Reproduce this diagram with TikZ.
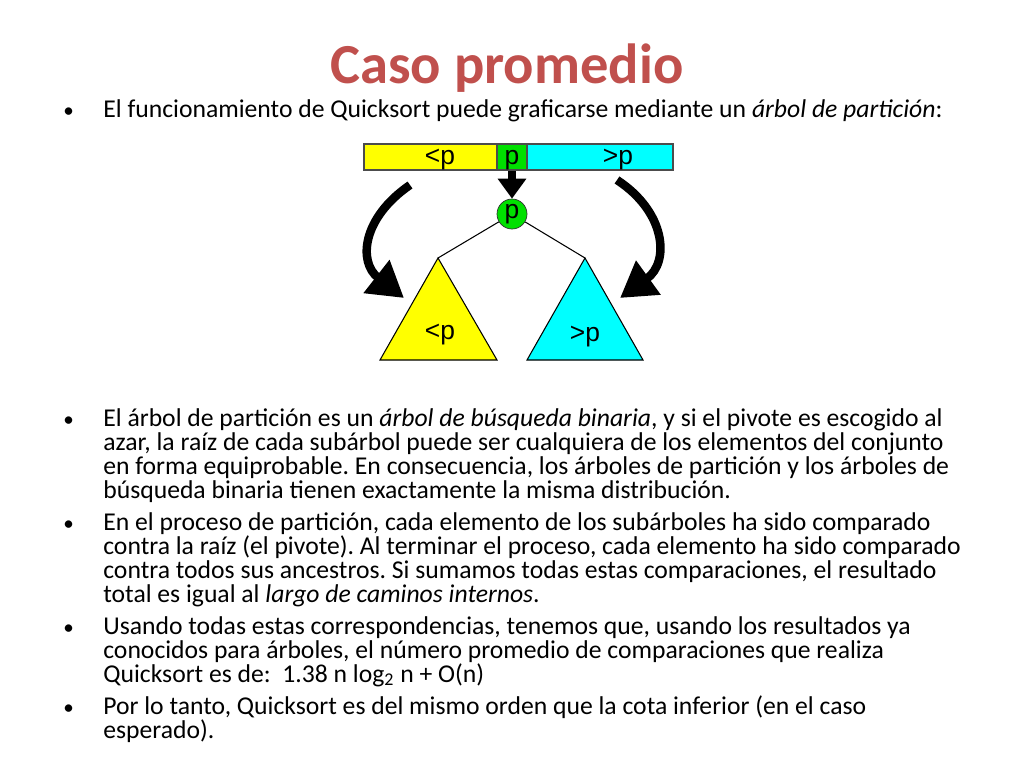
\documentclass[tikz,border=0pt]{standalone}
\usepackage{fontspec}
\setmainfont{Carlito}
\newfontfamily\arialf{Liberation Sans}
\usetikzlibrary{arrows.meta}
\definecolor{titlered}{HTML}{C0504D}
\definecolor{cy}{HTML}{00FFFF}
\definecolor{gr}{HTML}{00E000}
\definecolor{ye}{HTML}{FFFF00}
\frenchspacing
\begin{document}
\begin{tikzpicture}[x=0.02cm,y=-0.02cm,
  ln/.style={anchor=base west,inner sep=0,font=\fontsize{14.6}{16}\selectfont},
  bul/.style={anchor=base west,inner sep=0,font=\fontsize{12}{14}\selectfont},
  dt/.style={font=\arialf\fontsize{15}{17}\selectfont,inner sep=0},
  big/.style={line width=0.17cm,-{Triangle[length=0.7cm,width=0.8cm]}}]
\useasboundingbox (0,0) rectangle (1024,768);
\node[font=\fontsize{32.2}{36}\selectfont\bfseries,text=titlered,anchor=base] (title) at (507,83) {Caso promedio};
% diagram
\draw[fill=ye,draw=black!70,line width=0.6pt] (364,144) rectangle (497,170);
\draw[fill=gr,draw=black!70,line width=0.6pt] (497,144) rectangle (527,170);
\draw[fill=cy,draw=black!70,line width=0.6pt] (527,144) rectangle (673,170);
\node[dt] (bl) at (440,160) {<p};
\node[dt] (bp) at (512,160) {p};
\node[dt] (br) at (618,160) {>p};
\coordinate (bps) at (512,171);
\node[draw=black!80,circle,fill=gr,minimum size=0.6cm,inner sep=0,dt] (root) at (512,214) {p};
\coordinate (la) at (438,258); \coordinate (ra) at (585,258);
\draw[fill=ye,line width=0.6pt] (la) -- (497,360) -- (380,360) -- cycle;
\draw[fill=cy,line width=0.6pt] (ra) -- (643,360) -- (527,360) -- cycle;
\node[dt] (lt) at (440,335) {<p};
\node[dt] (rt) at (585,337) {>p};
\draw[line width=0.6pt] (root) -- (la);
\draw[line width=0.6pt] (root) -- (ra);
\draw[line width=0.16cm,-{Triangle[length=0.4cm,width=0.55cm]}] (bps) -- (root.north);
\draw[big] (410,185) .. controls (362,218) and (358,262) .. (404,298);
\draw[big] (617,180) .. controls (666,212) and (670,262) .. (620,298);
% text
\foreach \y in {117,426,530,634,714} \node[bul] at (63,\y) {•};
\node[ln] (t1) at (103,117) {El funcionamiento de Quicksort puede graficarse mediante un \textit{árbol de partición}:};
\node[ln] (t2a) at (103,426) {El árbol de partición es un \textit{árbol de búsqueda binaria}, y si el pivote es escogido al};
\node[ln] (t2b) at (103,450) {azar, la raíz de cada subárbol puede ser cualquiera de los elementos del conjunto};
\node[ln] (t2c) at (103,474) {en forma equiprobable. En consecuencia, los árboles de partición y los árboles de};
\node[ln] (t2d) at (103,498) {búsqueda binaria tienen exactamente la misma distribución.};
\node[ln] (t3a) at (103,530) {En el proceso de partición, cada elemento de los subárboles ha sido comparado};
\node[ln] (t3b) at (103,554) {contra la raíz (el pivote). Al terminar el proceso, cada elemento ha sido comparado};
\node[ln] (t3c) at (103,578) {contra todos sus ancestros. Si sumamos todas estas comparaciones, el resultado};
\node[ln] (t3d) at (103,602) {total es igual al \textit{largo de caminos internos}.};
\node[ln] (t4a) at (103,634) {Usando todas estas correspondencias, tenemos que, usando los resultados ya};
\node[ln] (t4b) at (103,658) {conocidos para árboles, el número promedio de comparaciones que realiza};
\node[ln] (t4c) at (103,682) {Quicksort es de:\ \ 1.38 n log$_{\mathrm{2}}$ n + O(n)};
\node[ln] (t5a) at (103,714) {Por lo tanto, Quicksort es del mismo orden que la cota inferior (en el caso};
\node[ln] (t5b) at (103,738) {esperado).};
\end{tikzpicture}
\end{document}
